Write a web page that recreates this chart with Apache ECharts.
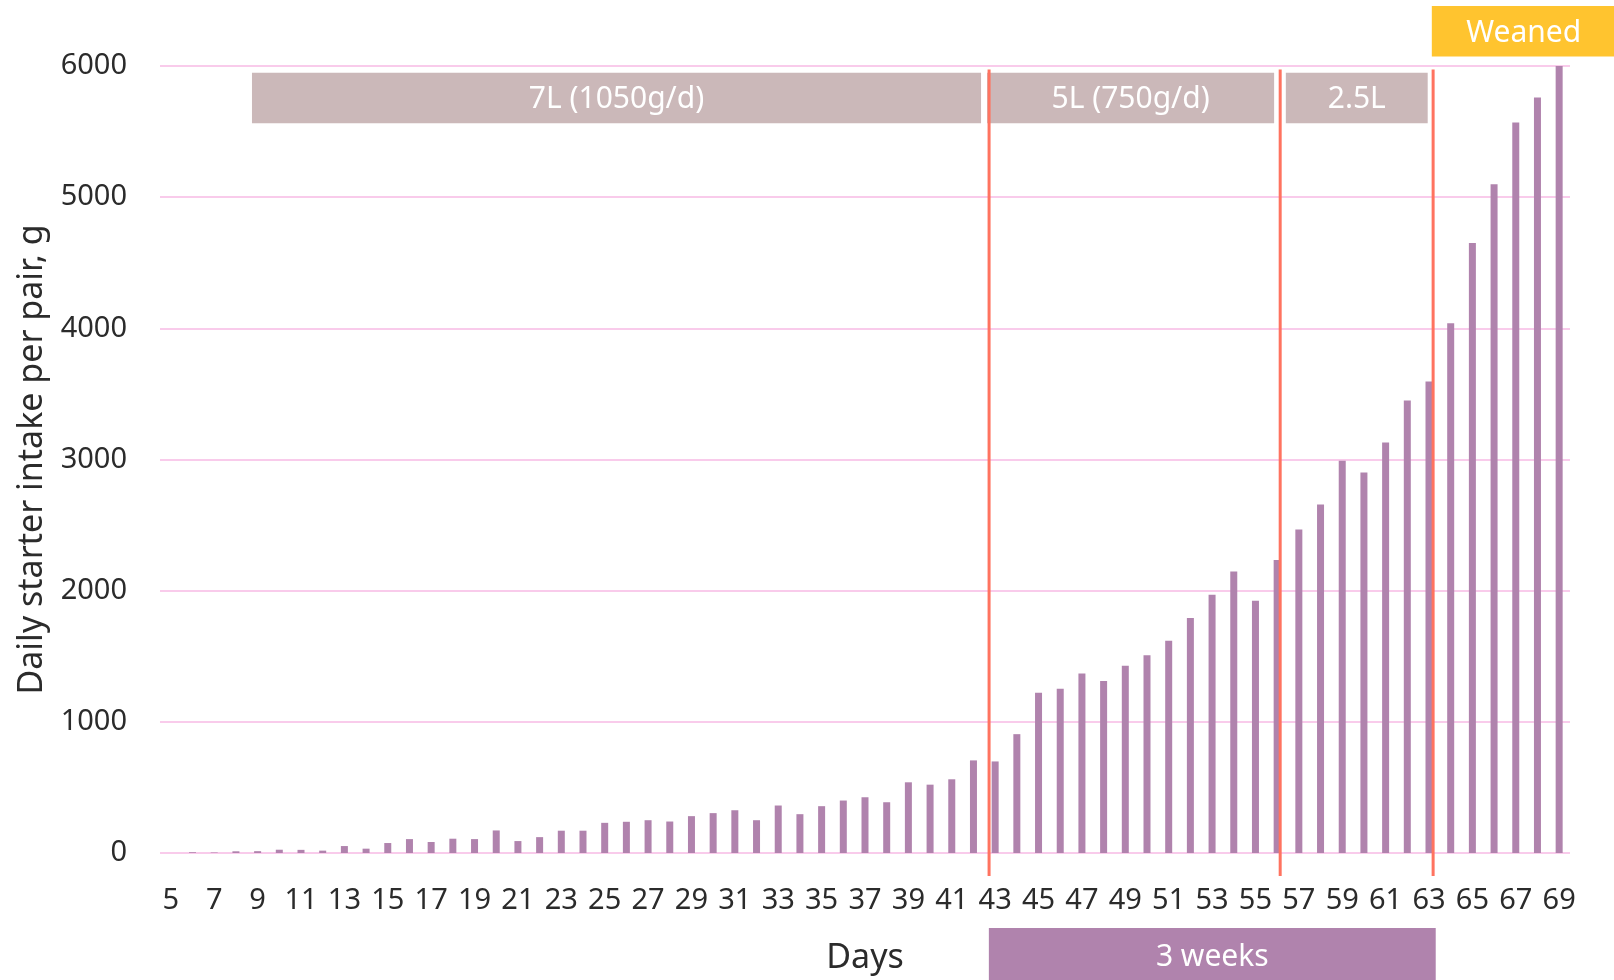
<!DOCTYPE html>
<html>
<head>
<meta charset="utf-8">
<title>Daily starter intake per pair</title>
<script src="https://cdn.jsdelivr.net/npm/echarts@6/dist/echarts.min.js"></script>
<style>
  html, body { margin: 0; padding: 0; background: #ffffff; }
  #chart { width: 1614px; height: 980px; }
</style>
</head>
<body>
<div id="chart"></div>
<script>
// Days of age on the x axis
const days = [];
for (let d = 5; d <= 69; d++) days.push(String(d));

// Daily starter intake per pair (g), one value per day from day 5 to day 69
const intake = [
  0, 6, 4, 13, 14, 25, 24, 18, 53, 33,          // 5-14
  76, 106, 84, 109, 106, 172, 91, 121, 170, 170, // 15-24
  230, 238, 250, 240, 281, 304, 326, 250, 362, 296, // 25-34
  357, 400, 425, 387, 539, 521, 562, 706, 698, 906, // 35-44
  1222, 1252, 1369, 1311, 1427, 1508, 1619, 1791, 1968, 2146, // 45-54
  1923, 2234, 2467, 2657, 2991, 2900, 3130, 3449, 3595, 4038, // 55-64
  4651, 5098, 5569, 5759, 6000                   // 65-69
];

// Y axis ticks
const yMin = 0, yMax = 6000, yStep = 1000;

// Milk allowance phases (day ranges on a continuous day scale)
const phaseLabels = ['7L (1050g/d)', '5L (750g/d)', '2.5L'];
const phaseStart  = [8.74, 42.63, 56.40];
const phaseEnd    = [42.35, 55.86, 62.94];
const phaseBand   = [5564, 5949];      // g, bottom and top of the phase boxes

// Step-down / weaning days (red markers)
const switchDays  = [42.72, 56.14, 63.19];
const switchSpan  = [-175, 5974];      // g, how far the markers reach

// Weaned tag and the 3-week step-down bracket
const weaned      = { label: 'Weaned',  from: 63.13, to: 71.6,  low: 6073, high: 6457 };
const stepDown    = { label: '3 weeks', from: 42.71, to: 63.31, low: -985, high: -572 };

const FONT = '"Noto Sans", "Open Sans", sans-serif';
const TEXT = '#2b2b2b';

const boxData = phaseLabels.map((l, i) => [phaseStart[i], phaseEnd[i], phaseBand[0], phaseBand[1], l, 'phase']);
boxData.push([weaned.from, weaned.to, weaned.low, weaned.high, weaned.label, 'weaned']);
boxData.push([stepDown.from, stepDown.to, stepDown.low, stepDown.high, stepDown.label, 'weeks']);

const boxFill = { phase: '#CBB8B9', weaned: '#FFC42F', weeks: '#B083AD' };

const chart = echarts.init(document.getElementById('chart'), null, { renderer: 'canvas' });

chart.setOption({
  backgroundColor: '#ffffff',
  animation: false,
  textStyle: { fontFamily: FONT },
  grid: { left: 160, right: 44, top: 66, bottom: 124, containLabel: false },
  xAxis: [
    {
      type: 'category',
      data: days,
      boundaryGap: true,
      name: 'Days',
      nameLocation: 'middle',
      nameGap: 88,
      nameTextStyle: { fontSize: 34, color: TEXT, fontFamily: FONT },
      axisLine: { show: false },
      axisTick: { show: false },
      axisLabel: { interval: 1, fontSize: 29, color: TEXT, margin: 33, fontFamily: FONT }
    },
    {
      type: 'value',
      min: 4.5,
      max: 69.5,
      show: false
    }
  ],
  yAxis: {
    type: 'value',
    min: yMin,
    max: yMax,
    interval: yStep,
    name: 'Daily starter intake per pair, g',
    nameLocation: 'middle',
    nameGap: 104,
    nameTextStyle: { fontSize: 34, color: TEXT, fontFamily: FONT },
    axisLine: { show: false },
    axisTick: { show: false },
    axisLabel: {
      fontSize: 29, color: TEXT, margin: 33, fontFamily: FONT,
      formatter: v => String(v)
    },
    splitLine: { lineStyle: { color: '#F9CBEB', width: 2 } }
  },
  series: [
    {
      name: 'Starter intake',
      type: 'bar',
      data: intake,
      barWidth: 7,
      itemStyle: { color: '#B083AD' },
      z: 2
    },
    {
      name: 'Boxes',
      type: 'custom',
      xAxisIndex: 1,
      clip: false,
      silent: true,
      z: 3,
      encode: { x: [0, 1], y: [2, 3] },
      data: boxData,
      renderItem: function (params, api) {
        const p0 = api.coord([api.value(0), api.value(3)]);
        const p1 = api.coord([api.value(1), api.value(2)]);
        const kind = boxData[params.dataIndex][5];
        return {
          type: 'rect',
          shape: { x: p0[0], y: p0[1], width: p1[0] - p0[0], height: p1[1] - p0[1] },
          style: { fill: boxFill[kind] },
          textContent: {
            style: {
              text: boxData[params.dataIndex][4],
              fill: '#ffffff',
              fontSize: 30,
              fontFamily: FONT
            }
          },
          textConfig: { position: 'inside', offset: [0, 2] }
        };
      }
    },
    {
      name: 'Switch days',
      type: 'custom',
      xAxisIndex: 1,
      clip: false,
      silent: true,
      z: 4,
      encode: { x: 0, y: [1, 2] },
      data: switchDays.map(d => [d, switchSpan[0], switchSpan[1]]),
      renderItem: function (params, api) {
        const a = api.coord([api.value(0), api.value(1)]);
        const b = api.coord([api.value(0), api.value(2)]);
        return {
          type: 'line',
          shape: { x1: a[0], y1: a[1], x2: b[0], y2: b[1] },
          style: { stroke: '#FF7360', lineWidth: 3 }
        };
      }
    }
  ]
});
</script>
</body>
</html>
